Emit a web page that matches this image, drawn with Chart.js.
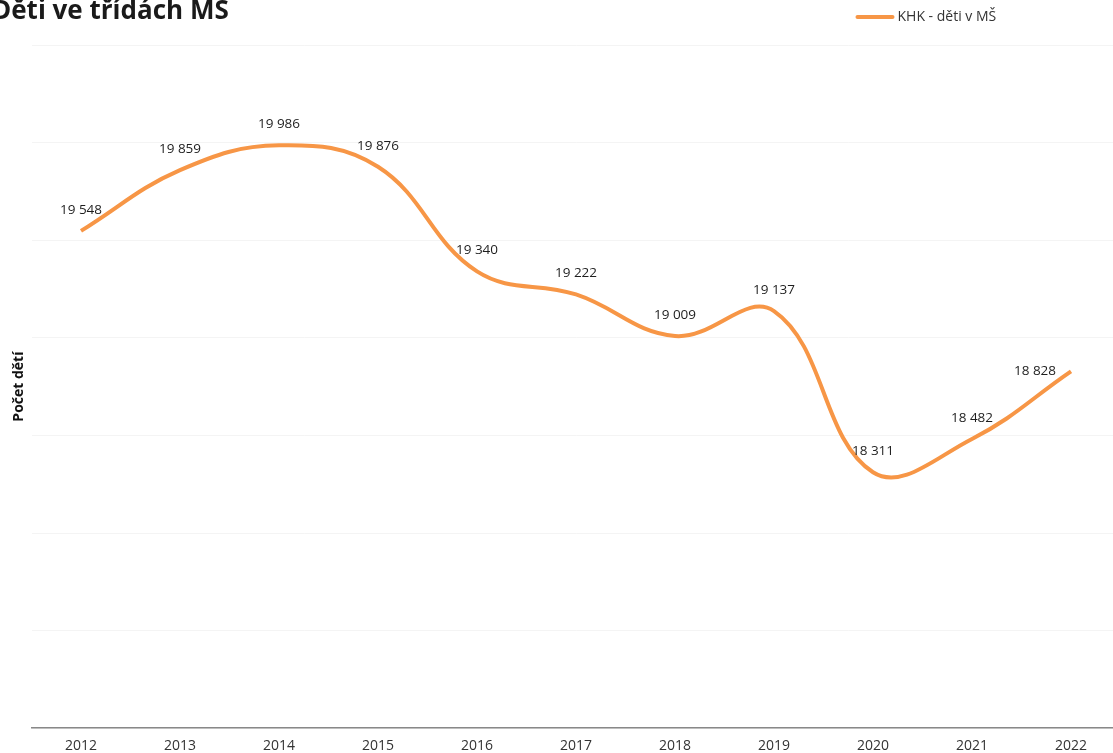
<!DOCTYPE html>
<html lang="cs">
<head>
<meta charset="utf-8">
<title>Děti ve třídách MŠ</title>
<script src="https://cdn.jsdelivr.net/npm/chart.js@4/dist/chart.umd.min.js"></script>
<style>
    html, body { margin: 0; padding: 0; background: #fff; overflow: hidden; }
    #wrap { position: absolute; left: -8px; top: -7px; width: 1140px; height: 770px; }
</style>
</head>
<body>
<div id="wrap"><canvas id="chart"></canvas></div>
<script>
// Data z grafu
const years = ['2012', '2013', '2014', '2015', '2016', '2017', '2018', '2019', '2020', '2021', '2022'];
const detiVMS = [19548, 19859, 19986, 19876, 19340, 19222, 19009, 19137, 18311, 18482, 18828];
const seriesLabel = 'KHK - děti v MŠ';
const chartTitle = 'Děti ve třídách MS';
const yTitle = 'Počet dětí';

const orange = '#f79646';
const font = '"Open Sans", "Liberation Sans", sans-serif';

function fmt(v) {
    return String(v).replace(/\B(?=(\d{3})+(?!\d))/g, ' ');
}

// popisky hodnot nad body
const valueLabels = {
    id: 'valueLabels',
    afterDatasetsDraw(chart) {
        const ctx = chart.ctx;
        const meta = chart.getDatasetMeta(0);
        ctx.save();
        ctx.font = '13.5px ' + font;
        ctx.fillStyle = '#1e1e1e';
        ctx.textAlign = 'center';
        ctx.textBaseline = 'middle';
        meta.data.forEach((pt, i) => {
            const last = i === meta.data.length - 1;
            const x = last ? pt.x - 36 : pt.x;
            const y = last ? pt.y : pt.y - 21;
            ctx.fillText(fmt(chart.data.datasets[0].data[i]), x, y);
        });
        ctx.restore();
    }
};

// legenda vpravo nahoře
const topLegend = {
    id: 'topLegend',
    afterDraw(chart) {
        const ctx = chart.ctx;
        const x0 = chart.chartArea.right - 263;
        const y0 = 24;
        ctx.save();
        ctx.strokeStyle = orange;
        ctx.lineWidth = 4;
        ctx.lineCap = 'round';
        ctx.beginPath();
        ctx.moveTo(x0, y0);
        ctx.lineTo(x0 + 35, y0);
        ctx.stroke();
        ctx.font = '14px ' + font;
        ctx.fillStyle = '#333';
        ctx.textBaseline = 'middle';
        ctx.fillText(seriesLabel, x0 + 40, y0);
        ctx.restore();
    }
};

new Chart(document.getElementById('chart'), {
    type: 'line',
    data: {
        labels: years,
        datasets: [{
            label: seriesLabel,
            data: detiVMS,
            borderColor: orange,
            backgroundColor: orange,
            borderWidth: 4,
            tension: 0.4,
            pointRadius: 0,
            fill: false
        }]
    },
    options: {
        responsive: true,
        maintainAspectRatio: false,
        animation: false,
        layout: { padding: { left: 0, right: 11.5, top: 0, bottom: 0 } },
        plugins: {
            legend: { display: false },
            tooltip: { enabled: false },
            title: {
                display: true,
                text: chartTitle,
                align: 'start',
                color: '#1a1a1a',
                font: { family: font, size: 26, weight: 'bold' },
                padding: { top: 3, bottom: 17.8 }
            }
        },
        scales: {
            x: {
                offset: true,
                grid: { display: false, drawTicks: false },
                border: { color: '#888', width: 1.5 },
                ticks: { color: '#333', font: { family: font, size: 14 }, padding: 9 }
            },
            y: {
                min: 17000,
                max: 20500,
                ticks: { display: false, stepSize: 500 },
                grid: { color: 'rgba(0,0,0,0.045)', drawTicks: false },
                border: { display: false },
                title: {
                    display: true,
                    text: yTitle,
                    color: '#111',
                    font: { family: font, size: 14, weight: 'bold' },
                    padding: { top: 18.2, bottom: 4.5 }
                }
            }
        }
    },
    plugins: [valueLabels, topLegend]
});
</script>
</body>
</html>
